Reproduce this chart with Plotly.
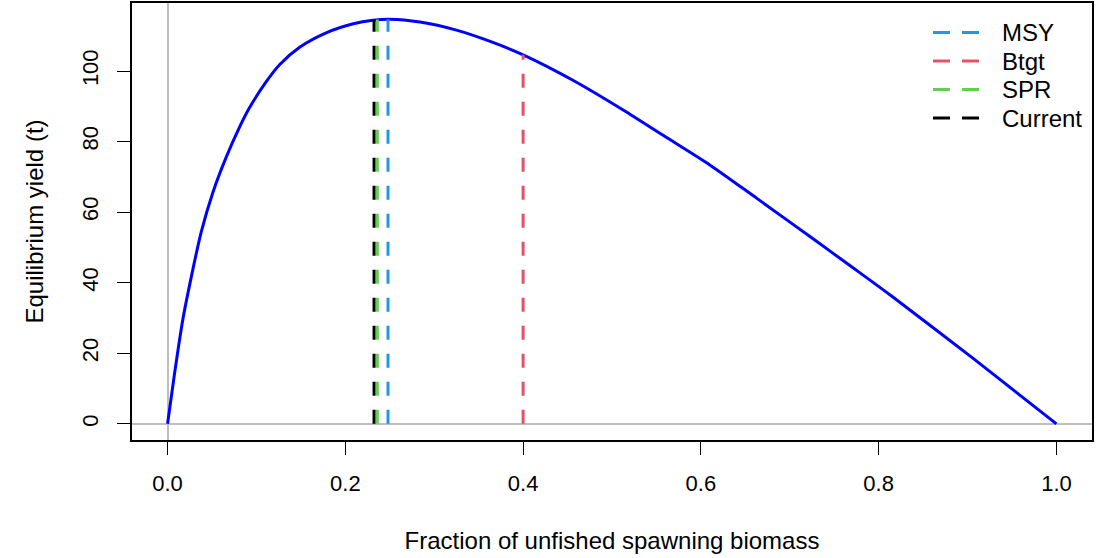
import plotly.graph_objects as go

# ---- data ----
frac = [0, 0.008, 0.017, 0.027, 0.038, 0.051, 0.066, 0.081, 0.092, 0.111, 0.126, 0.149,
        0.179, 0.209, 0.231, 0.25, 0.284, 0.325, 0.363, 0.40, 0.456, 0.513, 0.558, 0.61,
        0.663, 0.727, 0.768, 0.813, 0.907, 1.0]
yield_t = [0, 14.5, 29.3, 42.0, 54.5, 65.6, 75.6, 84.1, 89.5, 97.0, 101.8, 106.8,
           110.9, 113.4, 114.4, 114.7, 113.9, 111.6, 108.4, 104.6, 97.4, 88.9, 81.7, 73.4,
           63.9, 52.3, 44.8, 36.5, 18.4, 0]

ref_names = ["MSY", "Btgt", "SPR", "Current"]
ref_x = [0.248, 0.400, 0.236, 0.2323]
ref_y = [114.7, 104.6, 114.6, 114.5]
ref_colors = ["#2297E6", "#DF536B", "#61D04F", "#000000"]

x_ticks = [0.0, 0.2, 0.4, 0.6, 0.8, 1.0]
x_ticklabels = ["0.0", "0.2", "0.4", "0.6", "0.8", "1.0"]
y_ticks = [0, 20, 40, 60, 80, 100]

FONT = "Arial, Liberation Sans, sans-serif"
FS_TICK = 22
FS_TITLE = 24
FS_LEG = 24

fig = go.Figure()
fig.add_trace(go.Scatter(x=frac, y=yield_t, mode="lines",
                         line=dict(color="#0000FF", width=3, shape="spline", smoothing=0.8),
                         showlegend=False, hoverinfo="x+y"))
for nm, xv, yv, c in zip(ref_names, ref_x, ref_y, ref_colors):
    fig.add_trace(go.Scatter(x=[xv, xv], y=[0, yv], mode="lines", name=nm,
                             line=dict(color=c, width=3, dash="14px,14px"), showlegend=False))

# axis ranges like R (4% expansion)
xr = [min(frac) - 0.04 * (max(frac) - min(frac)), max(frac) + 0.04 * (max(frac) - min(frac))]
ymax = max(yield_t)
yr = [-0.04 * ymax, ymax * 1.04]

W, H = 1112, 558
ml, mr, mt, mb = 132, 20, 3, 118
pw, ph = W - ml - mr, H - mt - mb

def px2paper(px, py):
    return (px - ml) / pw, (H - mb - py) / ph

# manual legend (R style, no box)
leg_y = [32.5, 61, 89.5, 118]
for nm, c, ly in zip(ref_names, ref_colors, leg_y):
    for (a, b) in [(933, 950), (962, 979)]:
        xa, ya = px2paper(a, ly)
        xb, _ = px2paper(b, ly)
        fig.add_shape(type="line", xref="paper", yref="paper", x0=xa, x1=xb, y0=ya, y1=ya,
                      line=dict(color=c, width=3))
    tx, ty = px2paper(1000, ly)
    fig.add_annotation(xref="paper", yref="paper", x=tx, y=ty, text=nm, showarrow=False,
                       xanchor="left", yanchor="middle", font=dict(family=FONT, size=FS_LEG, color="black"))

fig.update_layout(
    width=W, height=H, margin=dict(l=ml, r=mr, t=mt, b=mb, autoexpand=False),
    paper_bgcolor="white", plot_bgcolor="white", showlegend=False,
    font=dict(family=FONT, size=FS_TICK, color="black"),
)
fig.update_xaxes(range=xr, tickvals=x_ticks, ticktext=x_ticklabels, ticks="outside", ticklen=13, tickwidth=1,
                 tickcolor="black", showgrid=False, zeroline=True, zerolinecolor="#BEBEBE", zerolinewidth=1.5,
                 showline=True, linecolor="black", linewidth=1.5, mirror=True,
                 title=dict(text="Fraction of unfished spawning biomass", standoff=37,
                            font=dict(family=FONT, size=FS_TITLE, color="black")),
                 tickfont=dict(size=FS_TICK), ticklabelstandoff=10)
fig.update_yaxes(range=yr, tickvals=y_ticks, ticks="outside", ticklen=13, tickwidth=1, tickangle=-90,
                 tickcolor="black", showgrid=False, zeroline=True, zerolinecolor="#BEBEBE", zerolinewidth=1.5,
                 showline=True, linecolor="black", linewidth=1.5, mirror=True,
                 title=dict(text="Equilibrium yield (t)", standoff=28,
                            font=dict(family=FONT, size=FS_TITLE, color="black")),
                 tickfont=dict(size=FS_TICK), ticklabelstandoff=10)

fig.write_html("out.html")
